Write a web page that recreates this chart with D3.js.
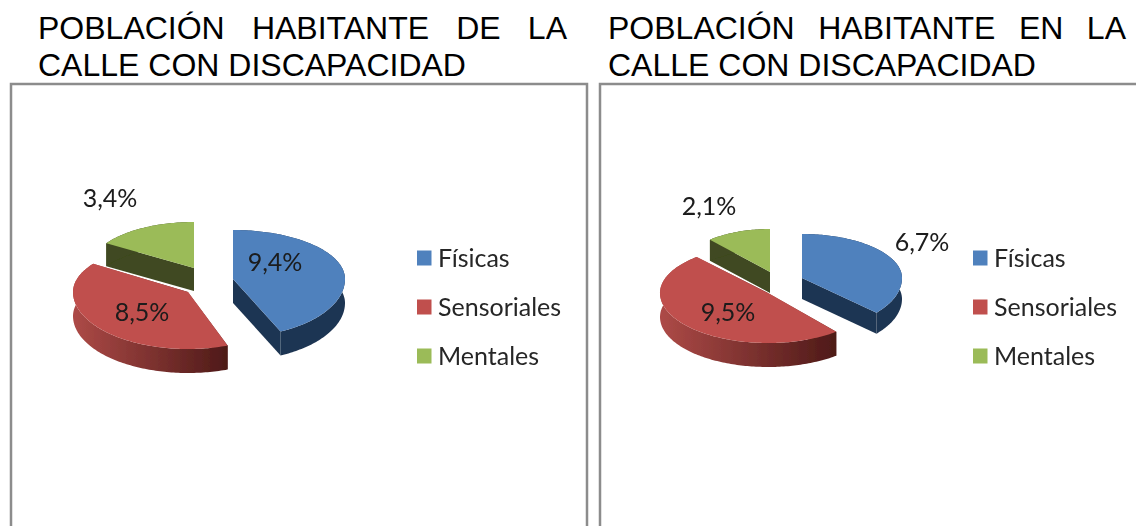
<!DOCTYPE html>
<html><head><meta charset="utf-8">
<script src="https://cdn.jsdelivr.net/npm/d3@7"></script>
<style>html,body{margin:0;background:#fff;overflow:hidden}svg{display:block}</style>
</head><body><svg id="c" width="1136" height="526"></svg>
<script>
const categories = ["Físicas", "Sensoriales", "Mentales"];
const valuesLeft = [9.4, 8.5, 3.4];
const valuesRight = [6.7, 9.5, 2.1];
const titleLeft = ["POBLACIÓN HABITANTE DE LA", "CALLE CON DISCAPACIDAD"];
const titleRight = ["POBLACIÓN HABITANTE EN LA", "CALLE CON DISCAPACIDAD"];
const topColors = ["#4f81bd", "#c0504d", "#9bbb59"];
const wallColors = ["#1f3552", "url(#redWall)", "#3f4a20"];
const deg = Math.PI / 180;

const charts = [
  { values: valuesLeft, title: titleLeft, titleX: 38, titleW: 529,
    frame: [11, 84, 576], legendX: 417,
    slices: [
      {cx: 233, cy: 279, rx: 112, back: 49, front: 58, depth: 24, label: [275, 262], trim: [0, -4]},
      {cx: 188, cy: 292, rx: 115, back: 50, front: 57, depth: 24, label: [142, 312], trim: [1, 2]},
      {cx: 194, cy: 268, rx: 104, back: 46, front: 50, depth: 23, label: [110, 198], trim: [0, 0]}
    ]},
  { values: valuesRight, title: titleRight, titleX: 608, titleW: 518,
    frame: [600, 84, 560], legendX: 973,
    slices: [
      {cx: 802, cy: 278, rx: 100, back: 44, front: 52, depth: 21, label: [922, 242], trim: [0, 0]},
      {cx: 768, cy: 293, rx: 108, back: 48, front: 50, depth: 24, label: [728, 312], trim: [9, 0]},
      {cx: 770, cy: 272, rx: 91, back: 43, front: 46, depth: 21, label: [709, 206], trim: [0, 0]}
    ]}
];

const svg = d3.select("#c");
const defs = svg.append("defs");
const grad = defs.append("linearGradient").attr("id", "redWall")
  .attr("gradientUnits", "objectBoundingBox");
grad.append("stop").attr("offset", "0%").attr("stop-color", "#ad4a47");
grad.append("stop").attr("offset", "100%").attr("stop-color", "#4e1a18");
defs.append("filter").attr("id", "soft").append("feGaussianBlur").attr("stdDeviation", 0.55);

const pct = d3.formatLocale({decimal: ",", thousands: ".", grouping: [3], currency: ["", ""]}).format(".1f");
const pie = d3.pie().sort(null).startAngle(0).endAngle(2 * Math.PI);
const line = d3.line();

function project(s, a, z) {
  const c = Math.cos(a);
  return [s.cx + s.rx * Math.sin(a), s.cy - c * (c > 0 ? s.back : s.front) + z];
}
function arcPts(s, a0, a1, z) {
  const n = Math.max(2, Math.ceil((a1 - a0) / 0.02));
  return d3.range(n + 1).map(i => project(s, a0 + (a1 - a0) * i / n, z));
}

charts.forEach(ch => {
  svg.append("path")
    .attr("d", `M${ch.frame[0]},530V${ch.frame[1]}H${ch.frame[0] + ch.frame[2]}V530`)
    .attr("fill", "none").attr("stroke", "#8c8c8c").attr("stroke-width", 2.5);

  ch.title.forEach((t, i) => {
    const el = svg.append("text").attr("x", ch.titleX).attr("y", 39 + i * 37)
      .attr("font-family", "'Liberation Sans', Arial, sans-serif").attr("font-size", 32)
      .attr("fill", "#000").text(t);
    if (i === 0) {
      const extra = (ch.titleW - el.node().getComputedTextLength()) / (t.split(" ").length - 1);
      el.attr("word-spacing", extra);
    }
  });

  const g = svg.append("g").attr("filter", "url(#soft)");
  const arcs = pie(ch.values);
  [2, 1, 0].forEach(i => {
    const d = arcs[i], s = ch.slices[i];
    const d0 = s.depth;
    const centre = [s.cx, s.cy];
    const a0 = d.startAngle + s.trim[0] * deg, a1 = d.endAngle + s.trim[1] * deg;
    const top = arcPts(s, a0, a1, 0);
    const low = arcPts(s, a0, a1, d0);
    const first = top[0], last = top[top.length - 1];
    const quads = [
      [centre, first, [first[0], first[1] + d0], [s.cx, s.cy + d0]],
      [centre, last, [last[0], last[1] + d0], [s.cx, s.cy + d0]],
      top.concat(low.slice().reverse())
    ];
    quads.forEach(q => g.append("path").attr("d", line(q) + "Z").attr("fill", wallColors[i]));
    g.append("path").attr("d", line([centre].concat(top)) + "Z").attr("fill", topColors[i]);
  });

  ch.slices.forEach((s, i) => {
    g.append("text").attr("x", s.label[0]).attr("y", s.label[1]).attr("dy", "0.36em")
      .attr("text-anchor", "middle").attr("font-family", "Lato, sans-serif")
      .attr("font-size", 25).attr("fill", "#1a1a1a").text(pct(ch.values[i]) + "%");
  });

  const ly = d3.scalePoint().domain(categories).range([258, 356]);
  categories.forEach((c, i) => {
    g.append("rect").attr("x", ch.legendX).attr("y", ly(c) - 7.5).attr("width", 14.5).attr("height", 15)
      .attr("fill", topColors[i]);
    g.append("text").attr("x", ch.legendX + 21).attr("y", ly(c)).attr("dy", "0.36em")
      .attr("font-family", "Lato, sans-serif").attr("font-size", 25).attr("fill", "#262626").text(c);
  });
});
</script></body></html>
